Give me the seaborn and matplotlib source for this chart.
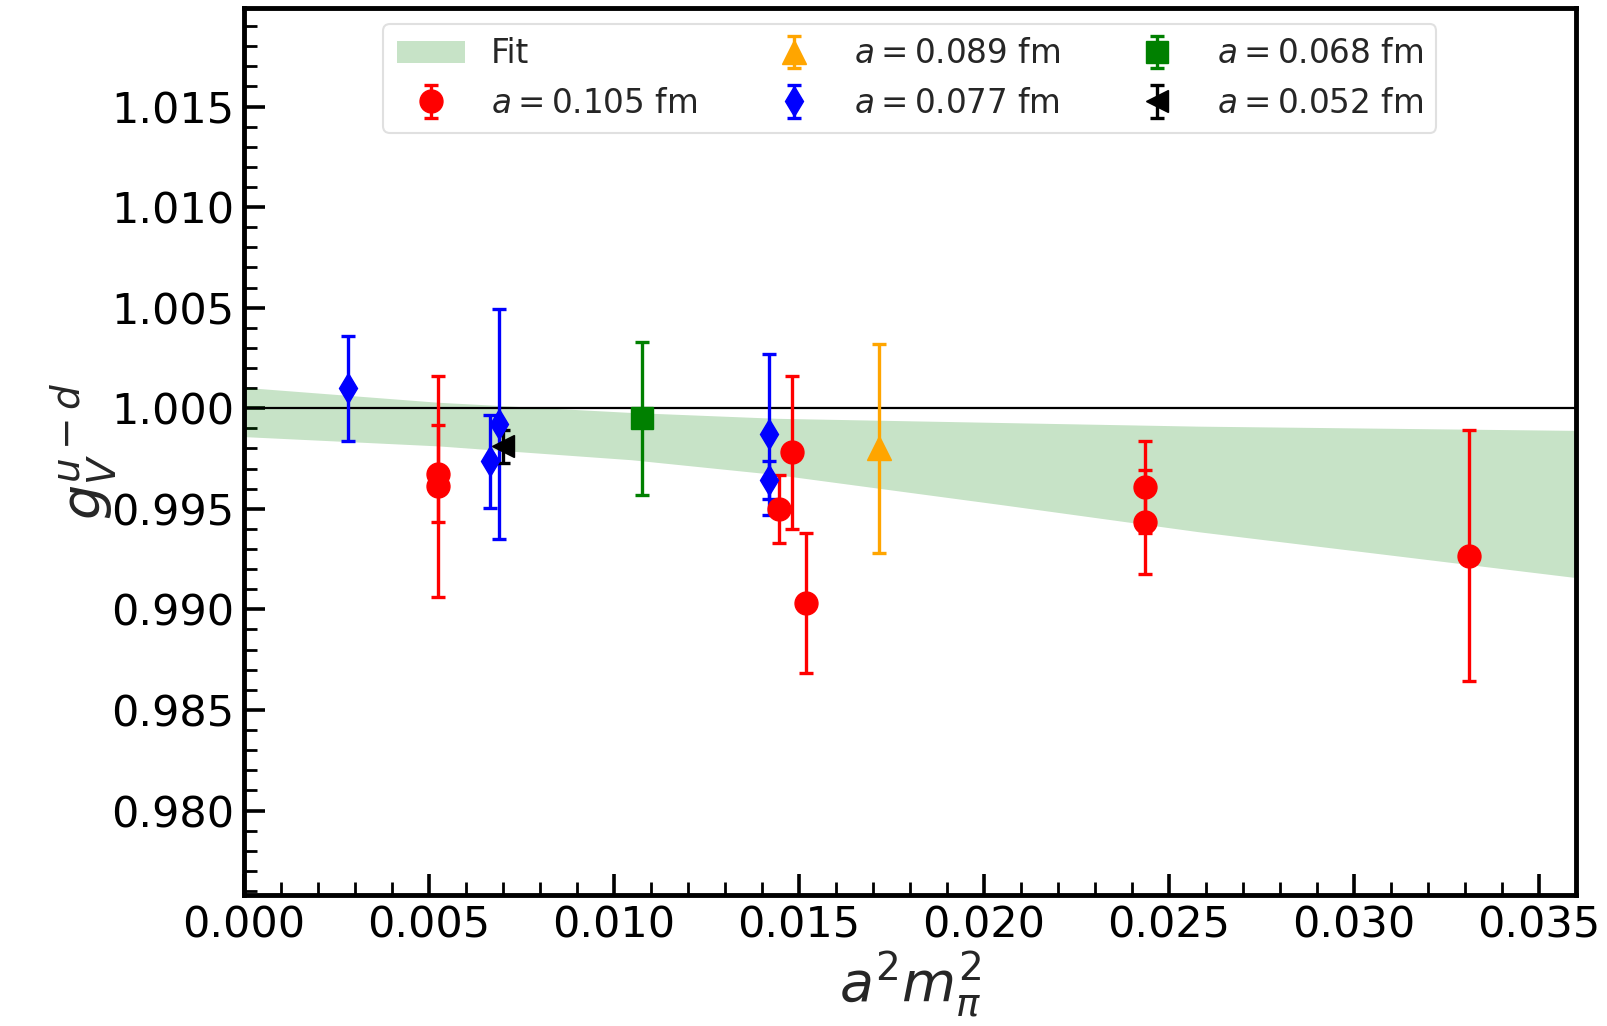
import numpy as np
import matplotlib
matplotlib.use("Agg")
import matplotlib.pyplot as plt
import seaborn as sns

# ---- data ----
fit_x = [0.0, 0.00523, 0.01047, 0.0144, 0.0205, 0.0258, 0.036]
fit_upper = [1.00104, 1.00030, 0.99979, 0.99950, 0.99929, 0.99911, 0.99890]
fit_lower = [0.99859, 0.99813, 0.99744, 0.99670, 0.99520, 0.99386, 0.99158]

red_x = [0.00524, 0.00524, 0.01446, 0.01482, 0.0152, 0.02435, 0.02435, 0.03310]
red_y = [0.99675, 0.99612, 0.99500, 0.99781, 0.99031, 0.99609, 0.99434, 0.99267]
red_err = [0.0024, 0.0055, 0.0017, 0.0038, 0.00347, 0.0023, 0.0026, 0.00625]

orange_x = [0.01717]
orange_y = [0.9980]
orange_err = [0.0052]

blue_x = [0.00282, 0.00666, 0.00690, 0.0142, 0.0142]
blue_y = [1.00099, 0.99736, 0.99922, 0.99871, 0.99645]
blue_err = [0.0026, 0.0023, 0.0057, 0.0040, 0.00095]

green_x = [0.01077]
green_y = [0.9995]
green_err = [0.0038]

black_x = [0.0070]
black_y = [0.9981]
black_err = [0.0008]

labels = [r"$a = 0.105$ fm", r"$a = 0.089$ fm", r"$a = 0.077$ fm",
          r"$a = 0.068$ fm", r"$a = 0.052$ fm"]

sns.set_theme(style="white")
plt.rcParams["font.family"] = ["DejaVu Sans"]
plt.rcParams["mathtext.fontset"] = "dejavusans"

fig = plt.figure(figsize=(16.08, 10.26), dpi=100)
ax = fig.add_axes([0.1517, 0.1277, 0.8284, 0.8645])

ax.fill_between(fit_x, fit_lower, fit_upper, color="green", alpha=0.22,
                linewidth=0, label="Fit", zorder=1)
ax.axhline(1.0, color="black", linewidth=1.6, zorder=2)

series = [
    (red_x, red_y, red_err, "red", "o", 16.5),
    (orange_x, orange_y, orange_err, "orange", "^", 17),
    (blue_x, blue_y, blue_err, "blue", "d", 15.5),
    (green_x, green_y, green_err, "green", "s", 16),
    (black_x, black_y, black_err, "black", "<", 16),
]
for (x, y, e, c, m, ms), lab in zip(series, labels):
    ax.errorbar(x, y, yerr=e, fmt=m, color=c, markersize=ms, elinewidth=2.4,
                capsize=5, capthick=2.4, label=lab, zorder=3)

ax.set_xlim(0, 0.036)
ax.set_ylim(0.9758, 1.0199)
ax.set_xticks(np.arange(0, 0.0351, 0.005))
ax.set_yticks(np.arange(0.980, 1.0151, 0.005))
ax.xaxis.set_major_formatter(matplotlib.ticker.FormatStrFormatter("%.3f"))
ax.yaxis.set_major_formatter(matplotlib.ticker.FormatStrFormatter("%.3f"))
ax.xaxis.set_minor_locator(matplotlib.ticker.MultipleLocator(0.001))
ax.yaxis.set_minor_locator(matplotlib.ticker.MultipleLocator(0.001))
ax.tick_params(which="both", direction="in", bottom=True, left=True,
               top=False, right=False, colors="black")
ax.tick_params(which="major", length=15, width=2.6, labelsize=31, pad=7)
ax.tick_params(which="minor", length=9.5, width=2.0)
for sp in ax.spines.values():
    sp.set_linewidth(3.5)
    sp.set_color("black")

ax.set_xlabel(r"$a^2 m_\pi^2$", fontsize=40, labelpad=2)
ax.set_ylabel(r"$g_V^{u-d}$", fontsize=40, labelpad=-6)

leg = ax.legend(loc="upper center", ncol=3, fontsize=23.5, handlelength=2.1,
                columnspacing=1.9, frameon=True, fancybox=True,
                borderaxespad=0.5)
leg.get_frame().set_edgecolor("0.85")
leg.get_frame().set_linewidth(1.5)

fig.savefig("out.png", dpi=100)
